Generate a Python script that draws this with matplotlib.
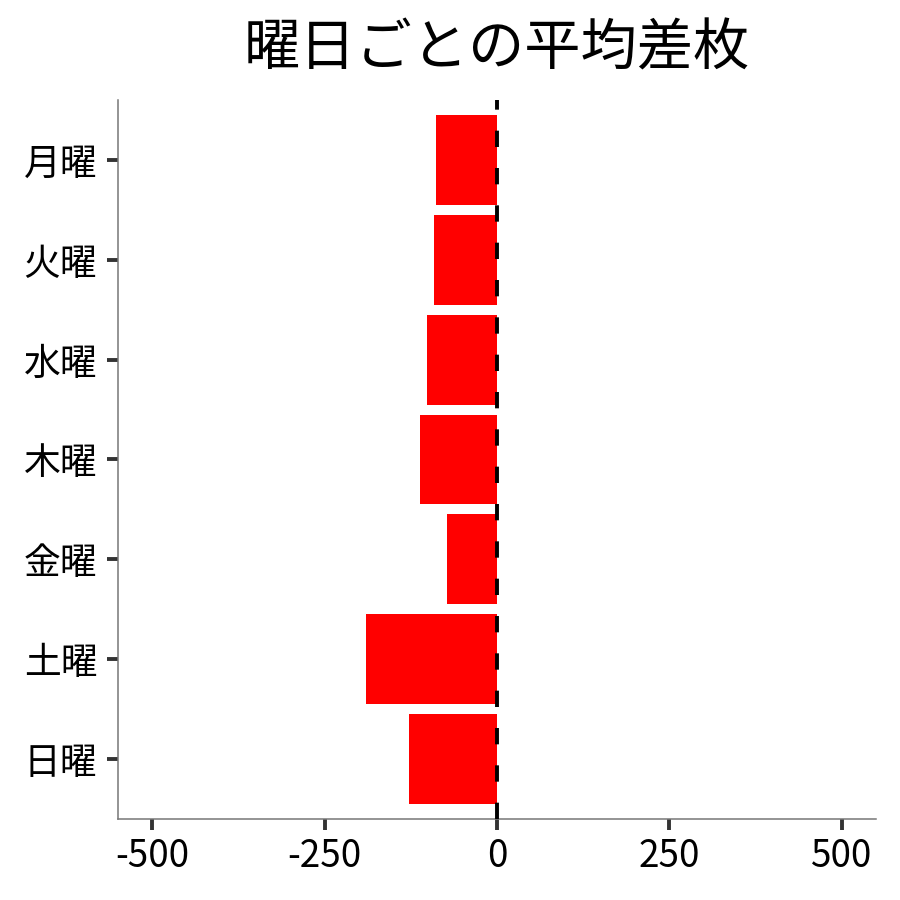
import matplotlib
matplotlib.use("Agg")
import matplotlib.pyplot as plt

plt.rcParams['font.family'] = ['Noto Sans CJK JP', 'DejaVu Sans']

days = ["月曜", "火曜", "水曜", "木曜", "金曜", "土曜", "日曜"]
avg_diff = [-88, -91, -102, -111, -73, -190, -128]
xticks = [-500, -250, 0, 250, 500]
title = "曜日ごとの平均差枚"

fig = plt.figure(figsize=(9, 9), dpi=100)
ax = fig.add_axes([0.1311, 0.09, 0.8422, 0.7989])

ypos = list(range(len(days)))
ax.barh(ypos, avg_diff, height=0.9, color="#FF0000", zorder=2)
ax.axvline(0, color="black", linewidth=2.8, linestyle=(0, (4.2, 5.4)), zorder=3)

ax.set_xlim(-550, 550)
ax.set_ylim(len(days) - 0.4, -0.6)
ax.set_yticks(ypos)
ax.set_yticklabels(days)
ax.set_xticks(xticks)
ax.set_xticklabels([str(v) for v in xticks])

for s in ["top", "right"]:
    ax.spines[s].set_visible(False)
for s in ["left", "bottom"]:
    ax.spines[s].set_color("#777777")
    ax.spines[s].set_linewidth(1.1)

ax.tick_params(axis="both", length=8, width=2.8, color="#333333",
               labelsize=26.5, labelcolor="black", pad=5)
ax.tick_params(axis="y", pad=7)

ax.set_title(title, fontsize=40.5, pad=25)

fig.savefig("out.png", dpi=100, facecolor="white")
